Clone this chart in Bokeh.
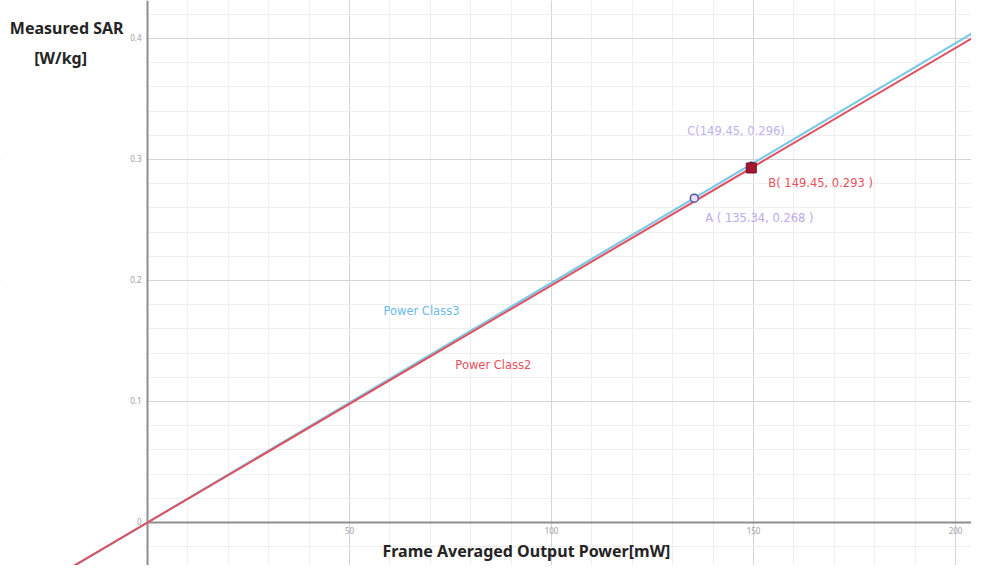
import numpy as np
from bokeh.plotting import figure
from bokeh.models import Span, Grid, SingleIntervalTicker, BoxAnnotation, Label, Range1d
from bokeh.core.properties import value
from bokeh.embed import file_html
from bokeh.resources import INLINE

# ---------------- data ----------------
series_names = ["Power Class3", "Power Class2"]
series_colors = ["#7cc9e6", "#e0505f"]
point_names = ["A", "B", "C"]
point_x = [135.34, 149.45, 149.45]
point_y = [0.268, 0.293, 0.296]
x_ticks = [50, 100, 150, 200]
y_ticks = [0, 0.1, 0.2, 0.3, 0.4]
x_title = "Frame Averaged Output Power[mW]"
y_title = ["Measured SAR", "[W/kg]"]

# ---------------- layout ----------------
X_START, X_END = -36.39, 203.96
Y_START, Y_END = -0.03554, 0.4314
FONT = "Noto Sans"
LFONT = "DejaVu Sans"

p = figure(width=971, height=565, output_backend="svg", toolbar_location=None,
           x_axis_location=None, y_axis_location=None,
           x_range=Range1d(X_START, X_END), y_range=Range1d(Y_START, Y_END),
           min_border=0, outline_line_color=None, background_fill_color="white")

xg = Grid(dimension=0, ticker=SingleIntervalTicker(interval=50, num_minor_ticks=5),
          grid_line_color="#d4d4d4", grid_line_width=1,
          minor_grid_line_color="#efefef", minor_grid_line_width=1)
yg = Grid(dimension=1, ticker=SingleIntervalTicker(interval=0.1, num_minor_ticks=5),
          grid_line_color="#d4d4d4", grid_line_width=1,
          minor_grid_line_color="#efefef", minor_grid_line_width=1)
p.add_layout(xg, "center")
p.add_layout(yg, "center")
p.add_layout(BoxAnnotation(right=0, fill_color="white", fill_alpha=1, line_color=None, level="underlay"))
p.add_layout(Span(location=0, dimension="height", line_color="#8e8e8e", line_width=2, level="underlay"))
p.ray(x=[0], y=[0], length=0, angle=0, line_color="#8e8e8e", line_width=2)

# series lines (through origin and the reference points)
slope3 = point_y[2] / point_x[2]
slope2 = point_y[1] / point_x[1]
xs = np.array([X_START - 10, X_END + 10])
p.line(xs, slope3 * xs, line_color=series_colors[0], line_width=2.2)
p.line(xs, slope2 * xs, line_color=series_colors[1], line_width=2)

# points
p.scatter([point_x[2]], [point_y[2]], size=5, fill_color="#3a6fb0", line_color="#2a3f80")
p.scatter([point_x[0]], [point_y[0]], size=8, fill_color="#e4e0f4", line_color="#5b4fa8", line_width=1.5)
p.scatter([point_x[1]], [point_y[1]], size=10, marker="square", fill_color="#a3162e", line_color="#7a0f22", line_width=1)

# point labels
labA = f"A ( {point_x[0]:.2f}, {point_y[0]:.3f} )"
labB = f"B( {point_x[1]:.2f}, {point_y[1]:.3f} )"
labC = f"C({point_x[2]:.2f}, {point_y[2]:.3f})"
p.text([point_x[0]], [point_y[0]], text=[labA], x_offset=11, y_offset=20, text_font=value(LFONT),
       text_font_size="11.5px", text_color="#bda8f0", text_baseline="middle")
p.text([point_x[1]], [point_y[1]], text=[labB], x_offset=17, y_offset=15, text_font=value(LFONT),
       text_font_size="11.5px", text_color="#e8505c", text_baseline="middle")
p.text([point_x[2]], [point_y[2]], text=[labC], x_offset=-64, y_offset=-33, text_font=value(LFONT),
       text_font_size="11.5px", text_color="#c0b0ee", text_baseline="middle")

# series labels
p.add_layout(Label(x=58.4, y=0.175, text=series_names[0], text_font=LFONT, text_font_size="11.5px",
                   text_color="#6ab9ea", text_baseline="middle"))
p.add_layout(Label(x=76.2, y=0.130, text=series_names[1], text_font=LFONT, text_font_size="11.5px",
                   text_color="#e8505c", text_baseline="middle"))

# tick labels
p.text(x_ticks, [0] * len(x_ticks), text=[f"{v:g}" for v in x_ticks], text_align="center",
       text_baseline="top", y_offset=5, text_font=value(FONT), text_font_size="8px", text_color="#a0a0a0")
p.text([0] * len(y_ticks), y_ticks, text=[f"{v:g}" for v in y_ticks], text_align="right",
       text_baseline="middle", x_offset=-6, y_offset=-1, text_font=value(FONT), text_font_size="8px",
       text_color="#a0a0a0")

# axis titles
p.add_layout(Label(x=93.8, y=-0.0235, text=x_title, text_font=FONT, text_font_size="16px",
                   text_font_style="bold", text_color="#242424", text_align="center", text_baseline="middle"))
p.add_layout(Label(x=-20.0, y=0.409, text=y_title[0], text_font=FONT, text_font_size="16px",
                   text_font_style="bold", text_color="#242424", text_align="center", text_baseline="middle"))
p.add_layout(Label(x=-21.5, y=0.384, text=y_title[1], text_font=FONT, text_font_size="16px",
                   text_font_style="bold", text_color="#242424", text_align="center", text_baseline="middle"))

open("out.html", "w").write(file_html(p, INLINE))
